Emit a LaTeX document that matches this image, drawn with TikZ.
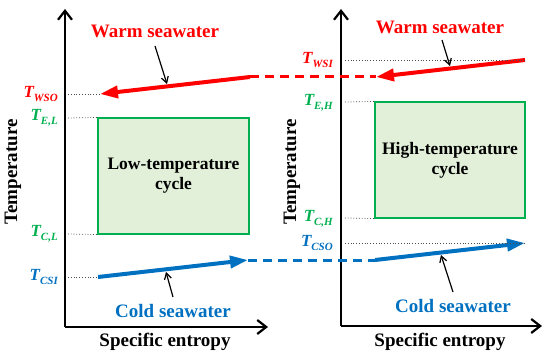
\documentclass[tikz,border=0pt]{standalone}
\usepackage{fontspec}
\setmainfont{Liberation Serif}
\usepackage{xcolor}
\usepackage{tikz}
\usetikzlibrary{arrows.meta}

\definecolor{warmred}{RGB}{255,0,0}
\definecolor{coldblue}{RGB}{0,112,192}
\definecolor{cyclegreen}{RGB}{0,176,80}
\definecolor{cyclefill}{RGB}{226,240,217}

\newcommand{\tlab}[1]{\fontsize{17}{17}\selectfont\itshape T\raisebox{-3.5pt}{\fontsize{11}{11}\selectfont #1}}

\begin{document}
\begin{tikzpicture}[x=1pt,y=-1pt,font=\fontsize{19}{21}\selectfont\bfseries,
  axis/.style={line width=2.2pt,-{Straight Barb[length=9pt,width=14pt]}},
  guide/.style={dotted,line width=0.8pt,black!70},
  warmflow/.style={warmred,line width=4pt,-{Triangle[length=18pt,width=12pt]}},
  coldflow/.style={coldblue,line width=4pt,-{Triangle[length=18pt,width=12pt]}},
  warmlink/.style={warmred,line width=3pt,dash pattern=on 9pt off 6pt},
  coldlink/.style={coldblue,line width=3pt,dash pattern=on 9pt off 6pt},
  pointer/.style={black,line width=1.2pt,-{Straight Barb[length=6pt,width=7pt]}},
  cyclebox/.style={draw=cyclegreen,fill=cyclefill,line width=1.1pt,align=center,
    font=\fontsize{17.5}{20}\selectfont\bfseries},
  tlabel/.style={anchor=east,inner sep=0pt}]
  \useasboundingbox (0,0) rectangle (550,361);

  % low-temperature side
  \coordinate (oL) at (65,327);
  \coordinate (yL) at (65,9);
  \coordinate (xL) at (268,327);
  \draw[axis] (oL) -- (yL);
  \draw[axis] (oL) -- (xL);
  \node[rotate=90] (tempL) at (13,172) {Temperature};
  \node (entL) at (165,342) {Specific entropy};
  \node[cyclebox,minimum width=151pt,minimum height=116pt] (lowbox) at (173.5,176) {Low-temperature\\cycle};

  \coordinate (wsoStart) at (250,77);
  \coordinate (wsoEnd) at (100,94);
  \coordinate (csiStart) at (98,277);
  \coordinate (csiEnd) at (248,260);
  \draw[warmflow] (wsoStart) -- (wsoEnd);
  \draw[coldflow] (csiStart) -- (csiEnd);

  \node[tlabel,text=warmred] (twso) at (58,94) {\tlab{WSO}};
  \node[tlabel,text=cyclegreen] (tel) at (58,118) {\tlab{E,L}};
  \node[tlabel,text=cyclegreen] (tcl) at (58,234) {\tlab{C,L}};
  \node[tlabel,text=coldblue] (tcsi) at (58,277) {\tlab{CSI}};
  \draw[guide] (68,94) -- (wsoEnd);
  \draw[guide] (68,118) -- (lowbox.north west);
  \draw[guide] (68,234) -- (lowbox.south west);
  \draw[guide] (68,277) -- (csiStart);

  \node[text=warmred] (warmL) at (155,31) {Warm seawater};
  \node[text=coldblue] (coldL) at (173,311) {Cold seawater};
  \coordinate (warmLtip) at (167,84);
  \coordinate (coldLtip) at (166,272);
  \draw[pointer] (155,46) -- (warmLtip);
  \draw[pointer] (173,297) -- (coldLtip);

  % high-temperature side
  \coordinate (oR) at (341,326);
  \coordinate (yR) at (341,9);
  \coordinate (xR) at (542,326);
  \draw[axis] (oR) -- (yR);
  \draw[axis] (oR) -- (xR);
  \node[rotate=90] (tempR) at (292,172) {Temperature};
  \node (entR) at (440,342) {Specific entropy};
  \node[cyclebox,minimum width=150pt,minimum height=116pt] (highbox) at (450,160) {High-temperature\\cycle};

  \coordinate (wsiStart) at (525,60);
  \coordinate (wsiEnd) at (376,77);
  \coordinate (csoStart) at (375,260);
  \coordinate (csoEnd) at (525,243);
  \draw[warmflow] (wsiStart) -- (wsiEnd);
  \draw[coldflow] (csoStart) -- (csoEnd);

  \node[tlabel,text=warmred] (twsi) at (333,60) {\tlab{WSI}};
  \node[tlabel,text=cyclegreen] (teh) at (333,103) {\tlab{E,H}};
  \node[tlabel,text=cyclegreen] (tch) at (333,219) {\tlab{C,H}};
  \node[tlabel,text=coldblue] (tcso) at (333,243) {\tlab{CSO}};
  \draw[guide] (345,60) -- (wsiStart);
  \draw[guide] (345,102) -- (highbox.north west);
  \draw[guide] (345,218) -- (highbox.south west);
  \draw[guide] (345,243) -- (csoEnd);

  \node[text=warmred] (warmR) at (440,27) {Warm seawater};
  \node[text=coldblue] (coldR) at (453,306) {Cold seawater};
  \coordinate (warmRtip) at (450,66);
  \coordinate (coldRtip) at (441,255);
  \draw[pointer] (442,40) -- (warmRtip);
  \draw[pointer] (453,292) -- (coldRtip);

  % links between the two cycles
  \draw[warmlink] (wsoStart) -- (wsiEnd);
  \draw[coldlink] (csiEnd) -- (csoStart);
\end{tikzpicture}
\end{document}
